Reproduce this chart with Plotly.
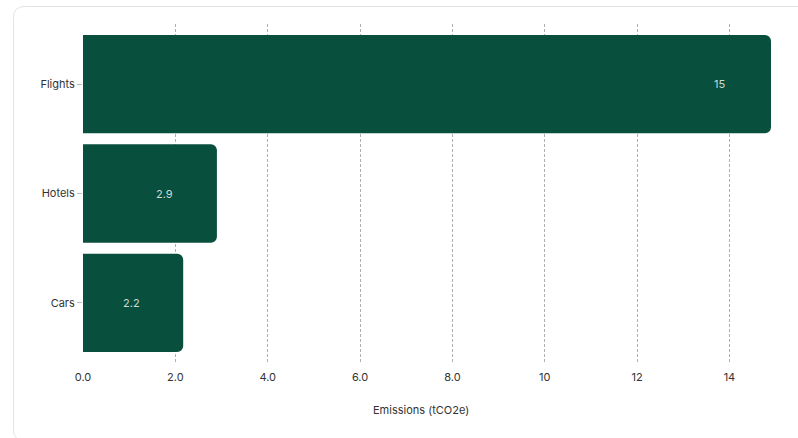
import plotly.graph_objects as go

# Emissions by travel category
categories = ["Flights", "Hotels", "Cars"]
emissions = [14.9, 2.9, 2.17]
tick_values = [0, 2, 4, 6, 8, 10, 12, 14]
tick_labels = ["0.0", "2.0", "4.0", "6.0", "8.0", "10", "12", "14"]

W, H = 798, 438
ML, MR, MT, MB = 83, 27, 24, 75
BAR_COLOR = "#084f3d"
FONT = "Inter, Roboto, sans-serif"

fig = go.Figure()
fig.add_trace(go.Bar(
    y=categories,
    x=emissions,
    orientation="h",
    marker=dict(color=BAR_COLOR, line=dict(width=0), cornerradius=6),
    hoverinfo="skip",
    showlegend=False,
))

# value labels inside each bar, near its end
for cat, val in zip(categories, emissions):
    fig.add_annotation(
        x=val, y=cat, xref="x", yref="y",
        text=f"{val:.2g}",
        showarrow=False, xanchor="center", xshift=-52,
        font=dict(family=FONT, size=11, color="#cbdad4"),
    )

# axis title
pw = W - ML - MR
ph = H - MT - MB
fig.add_annotation(
    x=(421 - ML) / pw, y=(H - MB - 410) / ph, xref="paper", yref="paper",
    text="Emissions (tCO2e)", showarrow=False,
    xanchor="center", yanchor="middle",
    font=dict(family=FONT, size=11, color="#333333"),
)

# card outline, running past the right and bottom edges
def px(x):
    return (x - ML) / pw

def py(y):
    return (H - MB - y) / ph

x0, y0, x1, y1, r = 13.5, 6.5, 900, 440.5, 11
path = (
    f"M {px(x1)},{py(y0)} L {px(x0 + r)},{py(y0)} "
    f"Q {px(x0)},{py(y0)} {px(x0)},{py(y0 + r)} "
    f"L {px(x0)},{py(y1 - r)} "
    f"Q {px(x0)},{py(y1)} {px(x0 + r)},{py(y1)} "
    f"L {px(x1)},{py(y1)}"
)
fig.add_shape(type="path", path=path, xref="paper", yref="paper",
              line=dict(color="#e3e3e3", width=1), fillcolor="rgba(0,0,0,0)",
              layer="below")

fig.update_layout(
    width=W, height=H,
    margin=dict(l=ML, r=MR, t=MT, b=MB),
    paper_bgcolor="white", plot_bgcolor="white",
    bargap=0.1,
    font=dict(family=FONT, size=11, color="#333333"),
    xaxis=dict(
        range=[0, 14.9],
        tickvals=tick_values,
        ticktext=tick_labels,
        showgrid=True, gridcolor="#b0b0b0", gridwidth=1, griddash="3px,2px",
        zeroline=False, showline=False,
        ticks="", ticklabelstandoff=6,
        tickfont=dict(family=FONT, size=11, color="#333333"),
        fixedrange=True,
    ),
    yaxis=dict(
        categoryorder="array", categoryarray=categories,
        range=[2.55, -0.55],
        showgrid=False, zeroline=False, showline=False,
        ticks="outside", ticklen=5, tickcolor="#bbbbbb", tickwidth=1,
        tickfont=dict(family=FONT, size=11, color="#333333"),
        fixedrange=True,
    ),
)

fig.write_html("out.html", config={"displayModeBar": False})
